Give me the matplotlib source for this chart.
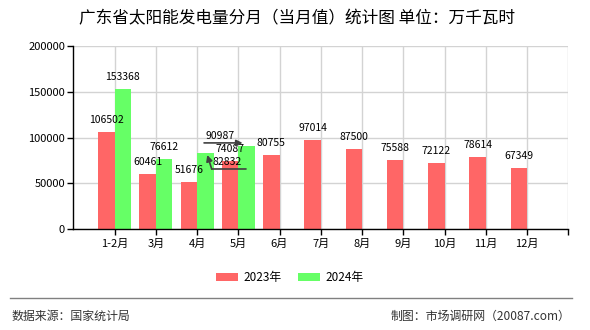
import matplotlib
matplotlib.use('Agg')
import numpy as np
import matplotlib.pyplot as plt
from matplotlib.lines import Line2D
from matplotlib.transforms import offset_copy

plt.rcParams['font.family'] = ['Noto Sans CJK SC', 'DejaVu Sans']

months = ['1-2月', '3月', '4月', '5月', '6月', '7月', '8月', '9月', '10月', '11月', '12月']
v2023 = [106502, 60461, 51676, 74087, 80755, 97014, 87500, 75588, 72122, 78614, 67349]
v2024 = [153368, 76612, 82832, 90987]
yticks = [0, 50000, 100000, 150000, 200000]

W, H = 590, 330
fig = plt.figure(figsize=(W / 100, H / 100), dpi=100)
ax = fig.add_axes([73.3 / W, 1 - 229.3 / H, (568.3 - 73.3) / W, (229.3 - 46) / H])

x = np.arange(len(months))
w = 0.4
b1 = ax.bar(x[:len(v2023)] - w / 2, v2023, w, color='#ff6666', label='2023年', zorder=2)
b2 = ax.bar(x[:len(v2024)] + w / 2, v2024, w, color='#66ff66', label='2024年', zorder=2)

# plain value labels above bars
def put_label(rect):
    bx = rect.get_x() + rect.get_width() / 2
    top = rect.get_height()
    ax.annotate('%d' % top, xy=(bx, top), xytext=(0, 9), textcoords='offset pixels',
                ha='center', va='baseline', fontsize=7.5, zorder=5)

for r in b1:
    put_label(r)
for i, r in enumerate(b2):
    if i in (2, 3):
        continue
    put_label(r)

line_kw = dict(color='#404040', lw=1.2)

# 4月 2024 label moved down-right with an arrow
r = b2[2]
bx, top = r.get_x() + r.get_width() / 2, r.get_height()
ax.annotate('%d' % top, xy=(bx, top), xytext=(21.7, -8.6), textcoords='offset pixels',
            ha='center', va='center', fontsize=7.5, zorder=5)
ax.annotate('', xy=(bx, top), xycoords=offset_copy(ax.transData, fig=fig, x=2, y=-1.6, units='dots'),
            xytext=(4.4, -14), textcoords='offset pixels',
            arrowprops=dict(arrowstyle='-|>', shrinkA=0, shrinkB=0, mutation_scale=9, **line_kw), zorder=5)
ax.annotate('', xy=(bx, top), xycoords=offset_copy(ax.transData, fig=fig, x=40.7, y=-15.6, units='dots'),
            xytext=(-34.3, 0), textcoords='offset pixels',
            arrowprops=dict(arrowstyle='-', shrinkA=0, shrinkB=0, **line_kw), zorder=5)

# 5月 2024 label moved left with an arrow
r = b2[3]
bx, top = r.get_x() + r.get_width() / 2, r.get_height()
ax.annotate('%d' % top, xy=(bx, top), xytext=(-26.5, 10.4), textcoords='offset pixels',
            ha='center', va='center', fontsize=7.5, zorder=5)
ax.annotate('', xy=(bx, top), xycoords=offset_copy(ax.transData, fig=fig, x=-4, y=3, units='dots'),
            xytext=(-38.5, 0), textcoords='offset pixels',
            arrowprops=dict(arrowstyle='-|>', shrinkA=0, shrinkB=0, mutation_scale=9, **line_kw), zorder=5)

ax.set_xlim(-1, len(months))
ax.set_xticks(np.arange(len(months) + 1))
ax.set_xticklabels(months + [''])
ax.set_ylim(0, 200000)
ax.set_yticks(yticks)
ax.set_yticklabels([str(t) for t in yticks])

ax.grid(True, color='#d3d3d3', lw=1, zorder=0)
ax.set_axisbelow(True)
for s in ('top', 'right'):
    ax.spines[s].set_visible(False)
for s in ('left', 'bottom'):
    ax.spines[s].set_linewidth(1)
ax.tick_params(axis='both', length=4, width=1, labelsize=8)
ax.tick_params(axis='y', pad=2)
ax.tick_params(axis='x', pad=3)

fig.text(0.504, 1 - 19 / H, '广东省太阳能发电量分月（当月值）统计图 单位：万千瓦时',
         ha='center', va='center', fontsize=12)

fig.legend(loc='center', bbox_to_anchor=(290 / W, 1 - 277.5 / H), ncol=2, frameon=False,
           fontsize=8.5, handlelength=1.85, handleheight=0.75, handletextpad=0.45,
           columnspacing=1.4)

fig.add_artist(Line2D([10 / W, 571.7 / W], [1 - 298.3 / H] * 2, color='#808080', lw=1))
fig.text(11.7 / W, 1 - 316.7 / H, '数据来源：国家统计局', ha='left', va='center',
         fontsize=8.6, color='#333333')
fig.text(570 / W, 1 - 316.7 / H, '制图：市场调研网（20087.com）', ha='right', va='center',
         fontsize=8.6, color='#333333')

fig.savefig('out.png', dpi=100)
